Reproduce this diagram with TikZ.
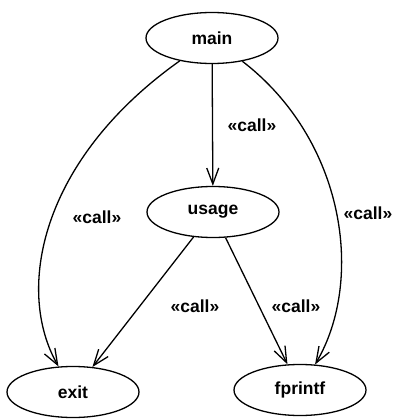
\documentclass[tikz,border=0pt]{standalone}
\usepackage{fontspec}
\setmainfont{Liberation Sans}
\usetikzlibrary{shapes.geometric,arrows.meta}
\begin{document}
\begin{tikzpicture}[x=1pt,y=-1pt,
  font=\fontsize{17.5}{21}\selectfont\bfseries,
  func/.style={draw,ellipse,line width=1.3pt,inner sep=0pt,
    minimum width=132pt,minimum height=51pt},
  call/.style={line width=1.3pt,-{Straight Barb[length=16pt,width=12pt]}},
  stereo/.style={inner sep=0pt}]
  \useasboundingbox (0,0) rectangle (392,420);

  \node[func] (main) at (212,38) {main};
  \node[func] (usage) at (213,212) {usage};
  \node[func] (exit) at (73,392) {exit};
  \node[func] (fprintf) at (300,390) {fprintf};

  \node[stereo] (callusage) at (252,125) {«call»};
  \node[stereo] (callexit) at (97,217) {«call»};
  \node[stereo] (callprint) at (368,213) {«call»};
  \node[stereo] (calluexit) at (195,306) {«call»};
  \node[stereo] (calluprint) at (296,306) {«call»};

  \draw[call] (main) -- (usage);
  \draw[call] (main) .. controls (40,160) and (15,290) .. (exit);
  \draw[call] (main) .. controls (345,140) and (365,280) .. (fprintf);
  \draw[call] (usage) -- (exit);
  \draw[call] (usage) -- (fprintf);
\end{tikzpicture}
\end{document}
